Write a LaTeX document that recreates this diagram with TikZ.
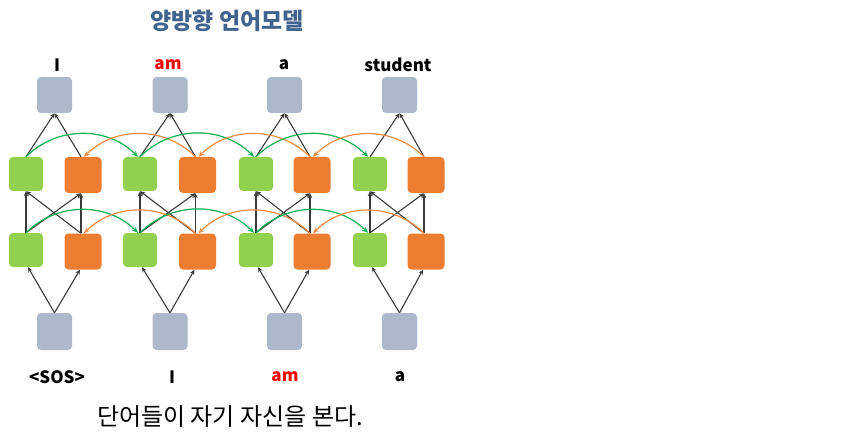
\documentclass[tikz,border=0pt]{standalone}
\usepackage{fontspec}
\setmainfont{Noto Sans CJK KR}
\usetikzlibrary{arrows.meta}
\definecolor{grayb}{HTML}{ADB9CA}
\definecolor{greenb}{HTML}{92D050}
\definecolor{orangeb}{HTML}{ED7D31}
\definecolor{greena}{HTML}{00B050}
\definecolor{orangea}{HTML}{F08A45}
\definecolor{titleblue}{HTML}{41648F}
\definecolor{arrowk}{HTML}{3A3A3A}
\tikzset{
  graybox/.style={fill=grayb, rounded corners=4pt, minimum width=35pt, minimum height=36pt, inner sep=0pt},
  greenbox/.style={fill=greenb, rounded corners=4pt, minimum width=34pt, minimum height=34pt, inner sep=0pt},
  orangebox/.style={fill=orangeb, rounded corners=4pt, minimum width=37pt, minimum height=36pt, inner sep=0pt},
  karrow/.style={draw=arrowk, line width=1.1pt, -{Stealth[length=5pt,width=4.5pt]}},
  garc/.style={draw=greena, line width=1.2pt, -{Stealth[length=6pt,width=5pt]}, out=45, in=135},
  oarc/.style={draw=orangea, line width=1.2pt, -{Stealth[length=6pt,width=5pt]}, out=135, in=45},
  wlabel/.style={font=\bfseries\fontsize{17}{19}\selectfont, inner sep=0pt},
}
\begin{document}
\begin{tikzpicture}[x=1pt,y=-1pt]
\path[use as bounding box] (0,0) rectangle (858,438);
\node[font=\bfseries\fontsize{23}{25}\selectfont, text=titleblue, inner sep=0pt] (title) at (227,21) {양방향 언어모델};
% top labels
\node[wlabel] (l1) at (57,65) {I};
\node[wlabel, text=red] (l2) at (168,65) {am};
\node[wlabel] (l3) at (284,65) {a};
\node[wlabel] (l4) at (398,65) {student};
% boxes
\foreach \i/\gx/\ox/\tx in {1/26/83/54.5, 2/140/197.5/170, 3/256/312/284.5, 4/370/426/399.5}{
  \node[graybox] (t\i) at (\tx,95) {};
  \node[greenbox] (gu\i) at (\gx,174) {};
  \node[orangebox] (ou\i) at (\ox,175) {};
  \node[greenbox] (gl\i) at (\gx,250) {};
  \node[orangebox] (ol\i) at (\ox,251.5) {};
  \node[graybox, minimum height=37pt] (b\i) at (\tx,331.5) {};
}
% black arrows
\foreach \i in {1,...,4}{
  \draw[karrow] (b\i.north) -- ([xshift=2pt]gl\i.south);
  \draw[karrow] (b\i.north) -- ([xshift=-3pt]ol\i.south);
  \draw[karrow] (gl\i.north) -- (gu\i.south);
  \draw[karrow] ([xshift=-2pt]ol\i.north) -- ([xshift=-2pt]ou\i.south);
  \draw[karrow] (gl\i.north) -- ([xshift=-2pt]ou\i.south);
  \draw[karrow] ([xshift=-2pt]ol\i.north) -- (gu\i.south);
  \draw[karrow] (gu\i.north) -- (t\i.south);
  \draw[karrow] ([xshift=-2pt]ou\i.north) -- (t\i.south);
}
% arcs
\foreach \i/\j in {1/2, 2/3, 3/4}{
  \draw[garc] (gu\i.north) to ([xshift=-2pt]gu\j.north);
  \draw[oarc] ([xshift=-2pt]ou\j.north) to ([xshift=1pt]ou\i.north);
  \draw[garc] (gl\i.north) to ([xshift=-2pt]gl\j.north);
  \draw[oarc] ([xshift=-2pt]ol\j.north) to ([xshift=1pt]ol\i.north);
}
% bottom labels
\node[wlabel] (s1) at (57,377) {<SOS>};
\node[wlabel] (s2) at (172,377) {I};
\node[wlabel, text=red] (s3) at (285,377) {am};
\node[wlabel] (s4) at (400,377) {a};
\node[font=\fontsize{24}{26}\selectfont, inner sep=0pt] (sent) at (230,417) {단어들이 자기 자신을 본다.};
\end{tikzpicture}
\end{document}
